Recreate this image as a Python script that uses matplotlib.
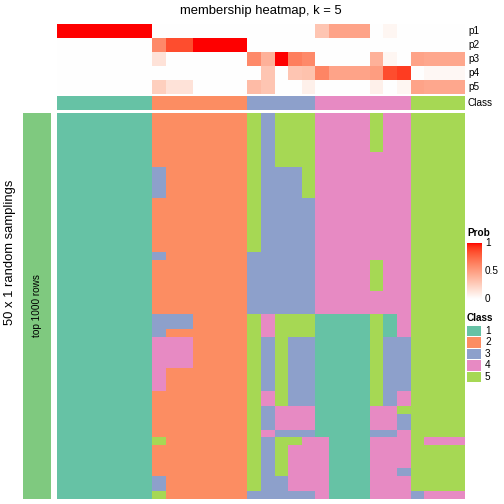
import numpy as np
import matplotlib
matplotlib.use("Agg")
import matplotlib.pyplot as plt
from matplotlib.colors import ListedColormap
from matplotlib.patches import Rectangle

plt.rcParams['font.family'] = ['Liberation Sans', 'DejaVu Sans']

# ---------------- data ----------------
title = "membership heatmap, k = 5"
row_title = "50 x 1 random samplings"
bar_label = "top 1000 rows"
class_names = ["1", "2", "3", "4", "5"]
class_colors = ["#66C2A5", "#FC8D62", "#8DA0CB", "#E78AC3", "#A6D854"]
bar_color = "#7FC97F"

# consensus class of each of the 30 columns
column_class = [1]*7 + [2]*7 + [3]*5 + [4]*7 + [5]*4

# membership probabilities p1..p5 for the 30 columns
p1 = [1.0]*7 + [0]*7 + [0]*5 + [0.3, 0.47, 0.47, 0.47, 0, 0.05, 0] + [0]*4
p2 = [0]*7 + [0.6, 0.85, 0.85, 1.0, 1.0, 1.0, 1.0] + [0]*5 + [0]*7 + [0]*4
p3 = [0]*7 + [0.15, 0, 0, 0, 0, 0, 0] + [0.6, 0.4, 1.0, 0.65, 0.6] + [0, 0, 0, 0, 0.4, 0.05, 0] + [0.47, 0.45, 0.45, 0.45]
p4 = [0]*7 + [0]*7 + [0, 0.3, 0, 0.3, 0.32] + [0.62, 0.47, 0.47, 0.47, 0.5, 0.85, 0.9] + [0, 0.04, 0.04, 0.04]
p5 = [0]*7 + [0.25, 0.15, 0.15, 0, 0, 0, 0] + [0.35, 0.3, 0, 0, 0.08] + [0, 0, 0, 0, 0.08, 0, 0.05] + [0.47, 0.45, 0.45, 0.45]
prob_names = ["p1", "p2", "p3", "p4", "p5"]

# class assigned in each of the 50 random samplings (rows) for each column
samplings = [
    "1111111" "2222222" "53555" "4444544" "5555",  # 0
    "1111111" "2222222" "53555" "4444544" "5555",
    "1111111" "2222222" "53555" "4444544" "5555",
    "1111111" "2222222" "53555" "4444544" "5555",
    "1111111" "2222222" "53555" "4444544" "5555",
    "1111111" "2222222" "53555" "4444444" "5555",  # 5
    "1111111" "2222222" "53555" "4444444" "5555",
    "1111111" "3222222" "53335" "4444444" "5555",
    "1111111" "3222222" "53335" "4444444" "5555",
    "1111111" "3222222" "53335" "4444444" "5555",
    "1111111" "3222222" "53335" "4444444" "5555",  # 10
    "1111111" "2222222" "53333" "4444444" "5555",
    "1111111" "2222222" "53333" "4444444" "5555",
    "1111111" "2222222" "53333" "4444444" "5555",
    "1111111" "2222222" "53333" "4444444" "5555",
    "1111111" "2222222" "53333" "4444444" "5555",  # 15
    "1111111" "2222222" "53333" "4444444" "5555",
    "1111111" "2222222" "53333" "4444444" "5555",
    "1111111" "3222222" "33333" "4444444" "5555",
    "1111111" "2222222" "33333" "4444544" "5555",
    "1111111" "2222222" "33333" "4444544" "5555",  # 20
    "1111111" "2222222" "33333" "4444544" "5555",
    "1111111" "2222222" "33333" "4444544" "5555",
    "1111111" "2222222" "33333" "4444444" "5555",
    "1111111" "2222222" "33333" "4444444" "5555",
    "1111111" "2222222" "33333" "4444444" "5555",  # 25
    "1111111" "3332222" "54555" "1111514" "5555",
    "1111111" "3332222" "54555" "1111514" "5555",
    "1111111" "3222222" "54555" "1111514" "5555",
    "1111111" "4442222" "53533" "1111533" "5555",
    "1111111" "4442222" "53533" "1111533" "5555",  # 30
    "1111111" "4442222" "53533" "1111533" "5555",
    "1111111" "4442222" "53533" "1111533" "5555",
    "1111111" "4222222" "53533" "1111533" "5555",
    "1111111" "4222222" "53533" "1111533" "5555",
    "1111111" "4222222" "53533" "1111533" "5555",  # 35
    "1111111" "2222222" "54533" "1111534" "5555",
    "1111111" "2222222" "54533" "1111534" "5555",
    "1111111" "2222222" "53444" "1111445" "5555",
    "1111111" "2222222" "53444" "1111443" "5555",
    "1111111" "2222222" "53444" "1111443" "5555",  # 40
    "1111111" "2222222" "54333" "1111334" "5555",
    "1111111" "5222222" "53554" "4111444" "5444",
    "1111111" "2222222" "53544" "4111444" "5555",
    "1111111" "2222222" "53544" "4111444" "5555",
    "1111111" "2222222" "53544" "4111444" "5555",  # 45
    "1111111" "2222222" "53544" "4111443" "5555",
    "1111111" "3222222" "53344" "4111444" "5555",
    "1111111" "3222222" "53344" "4111444" "5555",
    "1111111" "5222222" "33333" "4111444" "3444",  # 49
]
prob_ticks = [0, 0.5, 1]

# ---------------- helpers ----------------
W = H = 504.0

def rect(x0, y0, x1, y1):
    return [x0 / W, 1 - y1 / H, (x1 - x0) / W, (y1 - y0) / H]


def lab_white_red(n=256):
    t = np.linspace(0, 1, n)
    L = 100 + t * (53.2408 - 100)
    a = t * 80.0925
    b = t * 67.2032
    fy = (L + 16) / 116
    fx = fy + a / 500
    fz = fy - b / 200

    def finv(f):
        return np.where(f ** 3 > 0.008856, f ** 3, (f - 16 / 116) / 7.787)
    X = 0.95047 * finv(fx)
    Y = finv(fy)
    Z = 1.08883 * finv(fz)
    r = 3.2406 * X - 1.5372 * Y - 0.4986 * Z
    g = -0.9689 * X + 1.8758 * Y + 0.0415 * Z
    bb = 0.0557 * X - 0.2040 * Y + 1.0570 * Z
    rgb = np.clip(np.stack([r, g, bb], axis=1), 0, 1)
    rgb = np.where(rgb <= 0.0031308, 12.92 * rgb, 1.055 * rgb ** (1 / 2.4) - 0.055)
    return ListedColormap(np.clip(rgb, 0, 1))


prob_cmap = lab_white_red()
class_cmap = ListedColormap(class_colors)

fig = plt.figure(figsize=(7, 7), dpi=72)

X0, X1 = 57, 465
# probability annotation rows
ax_p = fig.add_axes(rect(X0, 24, X1, 94))
P = np.array([p1, p2, p3, p4, p5])
ax_p.imshow(P, cmap=prob_cmap, vmin=0, vmax=1, aspect='auto', interpolation='nearest')
ax_p.set_axis_off()

# class annotation row
ax_c = fig.add_axes(rect(X0, 95.5, X1, 110))
ax_c.imshow(np.array([column_class]), cmap=class_cmap, vmin=0.5, vmax=5.5,
            aspect='auto', interpolation='nearest')
ax_c.set_axis_off()

# main heatmap
M = np.array([[int(ch) for ch in row] for row in samplings])
ax_m = fig.add_axes(rect(X0, 113, X1, 499))
ax_m.imshow(M, cmap=class_cmap, vmin=0.5, vmax=5.5, aspect='auto', interpolation='nearest')
ax_m.set_axis_off()

# left bar
ax_b = fig.add_axes(rect(23, 113, 51, 499))
ax_b.imshow([[0]], cmap=ListedColormap([bar_color]), aspect='auto')
ax_b.set_axis_off()
ax_b.text(0.5, 0.5, bar_label, transform=ax_b.transAxes, rotation=90,
          ha='center', va='center', fontsize=10)

# overlay for texts and legends (pixel coordinates)
ov = fig.add_axes([0, 0, 1, 1])
ov.set_xlim(0, W)
ov.set_ylim(H, 0)
ov.set_axis_off()
ov.patch.set_alpha(0)

ov.text(261, 11, title, ha='center', va='center', fontsize=13)
ov.text(10, 252, row_title, rotation=90, ha='center', va='center', fontsize=13)
for i, nm in enumerate(prob_names):
    ov.text(468, 31 + 14 * i, nm, ha='left', va='center', fontsize=10)
ov.text(468, 103, "Class", ha='left', va='center', fontsize=10)

# Prob legend
ov.text(467, 233, "Prob", ha='left', va='center', fontsize=10, fontweight='bold')
cb_top, cb_bot = 243, 299
ax_cb = fig.add_axes(rect(467, cb_top, 482, cb_bot))
grad = np.linspace(1, 0, 200).reshape(-1, 1)
ax_cb.imshow(grad, cmap=prob_cmap, vmin=0, vmax=1, aspect='auto',
             extent=[0, 1, 0, 1])
ax_cb.set_xlim(0, 1)
ax_cb.set_ylim(0, 1)
ax_cb.set_axis_off()
for v in prob_ticks:
    yy = cb_bot - v * (cb_bot - cb_top)
    ov.plot([467, 469], [yy, yy], color='white', lw=0.8)
    ov.plot([480, 482], [yy, yy], color='white', lw=0.8)
    ov.text(485, yy, f"{v:g}", ha='left', va='center', fontsize=10)

# Class legend
ov.text(467, 318, "Class", ha='left', va='center', fontsize=10, fontweight='bold')
box_top, box_h = 325, 11.5
for i, (nm, col) in enumerate(zip(class_names, class_colors)):
    y0 = box_top + i * box_h
    ov.add_patch(Rectangle((467, y0 + 0.5), 14, box_h - 1, facecolor=col, edgecolor='none'))
    ov.text(485, y0 + box_h / 2, nm, ha='left', va='center', fontsize=10)

fig.savefig("out.png", dpi=72)
